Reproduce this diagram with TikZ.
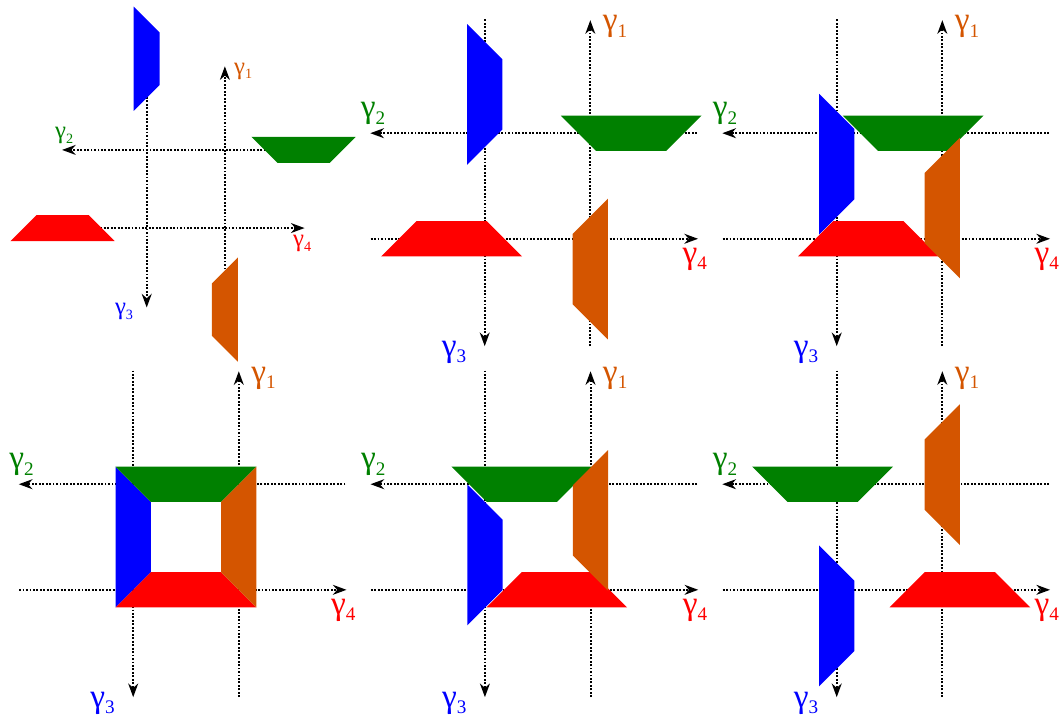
\documentclass[tikz,border=0pt]{standalone}
\usepackage{fontspec}
\newfontfamily\greekfont{Liberation Serif}
\usetikzlibrary{arrows.meta}
\definecolor{cblue}{HTML}{0000FF}
\definecolor{cgreen}{HTML}{008000}
\definecolor{cred}{HTML}{FF0000}
\definecolor{corange}{HTML}{D45500}
\newcommand{\glab}[1]{γ\raisebox{-5pt}{\fontsize{15.5}{16}\selectfont #1}}
\tikzset{
  axis/.style={draw=black, line width=1.6pt, dash pattern=on 1.5pt off 1.3pt,
    -{Stealth[length=11pt, width=8pt, inset=3.5pt]}},
  lab/.style={text=#1, font=\greekfont\fontsize{27}{32}\selectfont, inner sep=0pt},
}
\begin{document}
\begin{tikzpicture}
  \useasboundingbox (0,0) rectangle (30.17,-20.426);
  % panel / centre / scale / offsets of blue, green, red, orange along their axes
  \foreach \p/\cx/\cy/\sc/\sb/\sg/\sr/\so in {
      1/5.278/-5.369/0.74/-5.0/-4.52/-4.73/-4.63,
      2/15.27/-5.284/1/-2.6/-2.66/-2.44/-2.36,
      3/25.27/-5.284/1/-0.62/-0.67/-0.6/-0.625,
      4/5.284/-15.256/1/0/0/0/0,
      5/15.276/-15.256/1/0.51/0.45/0.54/0.47,
      6/25.27/-15.256/1/2.24/1.9/2.0/1.77} {
    \begin{scope}[shift={(\cx,\cy)}, scale=\sc, transform shape]
      % ---------- axes ----------
      \coordinate (a1s-\p) at (1.5,-4.55);  \coordinate (a1t-\p) at (1.5,4.71);
      \coordinate (a2s-\p) at (4.53,1.5);   \coordinate (a2t-\p) at (-4.75,1.5);
      \coordinate (a3s-\p) at (-1.5,4.73);  \coordinate (a3t-\p) at (-1.5,-4.55);
      \coordinate (a4s-\p) at (-4.74,-1.5); \coordinate (a4t-\p) at (4.56,-1.5);
      \foreach \k in {1,...,4} \draw[axis] (a\k s-\p) -- (a\k t-\p);
      % ---------- pieces ----------
      \fill[cblue] (-2,-\sb+2) -- (-2,-\sb-2) -- (-1,-\sb-1) -- (-1,-\sb+1) -- cycle;
      \fill[cgreen] (-\sg-2,2) -- (-\sg+2,2) -- (-\sg+1,1) -- (-\sg-1,1) -- cycle;
      \fill[cred] (\sr-2,-2) -- (\sr+2,-2) -- (\sr+1,-1) -- (\sr-1,-1) -- cycle;
      \fill[corange] (2,\so-2) -- (2,\so+2) -- (1,\so+1) -- (1,\so-1) -- cycle;
      % ---------- labels ----------
      \node[lab=corange] (g1-\p) at (2.2,4.52) {\glab{1}};
      \node[lab=cgreen] (g2-\p) at (-4.67,2.05) {\glab{2}};
      \node[lab=cblue] (g3-\p) at (-2.37,-4.72) {\glab{3}};
      \node[lab=cred] (g4-\p) at (4.47,-2.09) {\glab{4}};
    \end{scope}
  }
\end{tikzpicture}
\end{document}
